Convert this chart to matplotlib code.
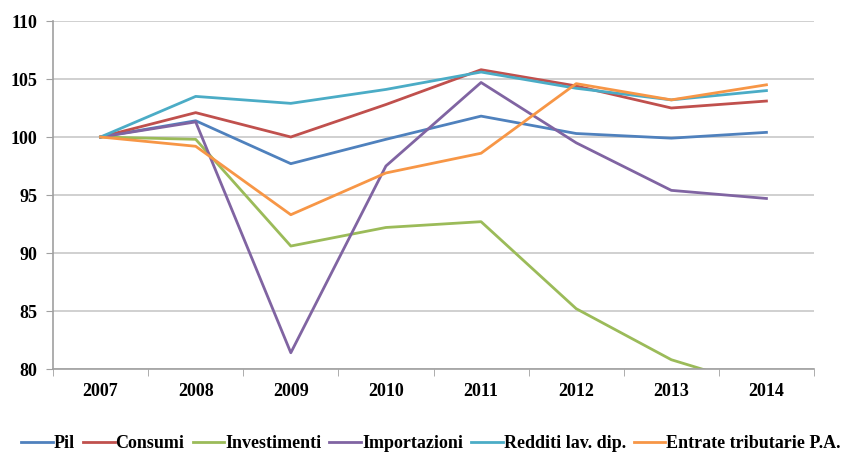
import matplotlib.pyplot as plt
import numpy as np

anni = ["2007", "2008", "2009", "2010", "2011", "2012", "2013", "2014"]
pil = [100, 101.4, 97.7, 99.8, 101.8, 100.3, 99.9, 100.4]
consumi = [100, 102.1, 100.0, 102.8, 105.8, 104.4, 102.5, 103.1]
investimenti = [100, 99.8, 90.6, 92.2, 92.7, 85.2, 80.8, 78.3]
importazioni = [100, 101.3, 81.4, 97.5, 104.7, 99.5, 95.4, 94.7]
redditi = [100, 103.5, 102.9, 104.1, 105.6, 104.2, 103.2, 104.0]
entrate = [100, 99.2, 93.3, 96.9, 98.6, 104.6, 103.2, 104.5]

serie = [
    ("Pil", pil, "#4F81BD"),
    ("Consumi", consumi, "#C0504D"),
    ("Investimenti", investimenti, "#9BBB59"),
    ("Importazioni", importazioni, "#8064A2"),
    ("Redditi lav. dip.", redditi, "#4BACC6"),
    ("Entrate tributarie P.A.", entrate, "#F79646"),
]

plt.rcParams['font.family'] = ['Liberation Serif', 'DejaVu Serif']

fig = plt.figure(figsize=(8.46, 4.55), dpi=100)
ax = fig.add_axes([53 / 846, 86 / 455, 761 / 846, 348 / 455])

x = np.arange(len(anni))
for nome, valori, colore in serie:
    ax.plot(x, valori, color=colore, lw=2.0, label=nome)

ax.set_xlim(-0.5, len(anni) - 0.5)
ax.set_ylim(80, 110)
ax.set_yticks(np.arange(80, 111, 5))
ax.yaxis.grid(True, color="#C8C8C8", lw=1.2)
ax.set_axisbelow(True)

# tick di categoria tra gli anni
ax.set_xticks(x)
ax.set_xticklabels(anni, fontsize=13, fontweight="bold")
ax.set_xticks(np.arange(-0.5, len(anni), 1), minor=True)
ax.tick_params(axis="x", which="major", length=0, pad=10)
ax.tick_params(axis="x", which="minor", length=5, color="#A0A0A0")
ax.tick_params(axis="y", length=5, color="#A0A0A0", labelsize=13, pad=6)
for lab in ax.get_yticklabels():
    lab.set_fontweight("bold")

for lato in ["top", "right"]:
    ax.spines[lato].set_visible(False)
for lato in ["left", "bottom"]:
    ax.spines[lato].set_color("#A0A0A0")
    ax.spines[lato].set_linewidth(1.2)

leg = fig.legend(loc="center", bbox_to_anchor=(431 / 846, 1 - 444 / 455), ncol=6, frameon=False,
                 handlelength=1.75, handletextpad=0.05, columnspacing=0.45,
                 borderpad=0, prop={"size": 13, "weight": "bold"})

fig.savefig("out.png", dpi=100)
